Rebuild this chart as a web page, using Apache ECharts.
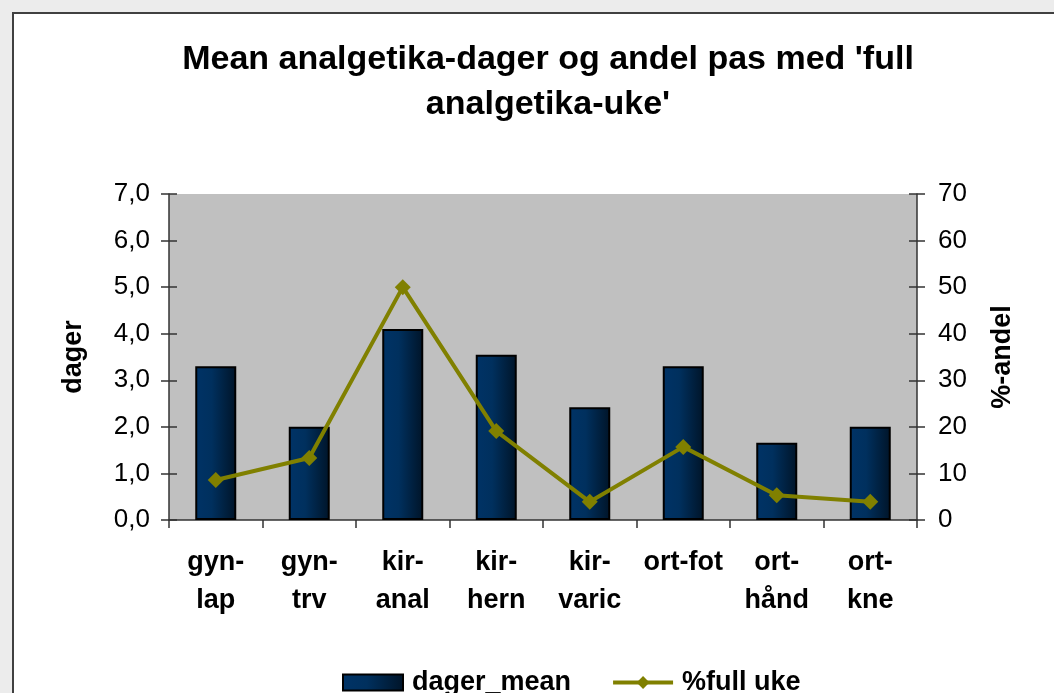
<!DOCTYPE html>
<html><head><meta charset="utf-8">
<script src="https://cdn.jsdelivr.net/npm/echarts@6/dist/echarts.min.js"></script>
<style>
html,body{margin:0;padding:0;background:#ececec;}
#wrap{position:absolute;left:12px;top:12px;width:1050px;height:690px;background:#fff;border:2px solid #404040;box-sizing:border-box;}
#c{position:absolute;left:-14px;top:-14px;width:1054px;height:693px;}
</style></head>
<body>
<div id="wrap"><div id="c"></div></div>
<script>
const categories = ['gyn-\nlap','gyn-\ntrv','kir-\nanal','kir-\nhern','kir-\nvaric','ort-fot','ort-\nhånd','ort-\nkne'];
const dagerMean = [3.3, 2.0, 4.1, 3.55, 2.42, 3.3, 1.66, 2.0];
const fullUke = [8.6, 13.3, 50.0, 19.1, 3.9, 15.7, 5.3, 3.9];
const leftTicks = [0,1,2,3,4,5,6,7];
const rightTicks = [0,10,20,30,40,50,60,70];

const chart = echarts.init(document.getElementById('c'));
const font = 'Liberation Sans, Arial, sans-serif';
const axisLineStyle = {color:'#333', width:1.5};
chart.setOption({
  animation:false,
  backgroundColor:'transparent',
  title:{text:"Mean analgetika-dager og andel pas med 'full\nanalgetika-uke'", left:543, top:32, textAlign:'center',
    textStyle:{fontFamily:font,fontSize:34,fontWeight:'bold',color:'#000',lineHeight:45}},
  legend:{top:664, left:337, itemGap:40, itemWidth:60, itemHeight:16,
    textStyle:{fontFamily:font,fontSize:27,fontWeight:'bold',color:'#000',padding:[0,0,0,4]},
    data:[{name:'dager_mean', icon:'rect'},{name:'%full uke', itemStyle:{color:'#808000'}, lineStyle:{width:4,color:'#808000'}}]},
  grid:{left:169,right:137,top:194,bottom:173,show:true,backgroundColor:'#c0c0c0',borderWidth:0},
  xAxis:[{type:'category',data:categories,axisLine:{lineStyle:axisLineStyle},
    axisTick:{show:true,length:8,lineStyle:{color:'#333',width:1.5}},
    axisLabel:{fontFamily:font,fontSize:27,fontWeight:'bold',color:'#000',lineHeight:38,margin:24,interval:0}}],
  yAxis:[
    {type:'value',min:0,max:7,interval:1,position:'left',
     axisLine:{show:true,lineStyle:axisLineStyle},
     axisTick:{show:true,length:8,lineStyle:{color:'#333',width:1.5}},
     splitLine:{show:false},
     axisLabel:{fontFamily:font,fontSize:26,color:'#000',margin:19,formatter:v=>v.toFixed(1).replace('.',',')},
     name:'dager',nameLocation:'middle',nameGap:82,nameRotate:90,
     nameTextStyle:{fontFamily:font,fontSize:27,fontWeight:'bold',color:'#000'}},
    {type:'value',min:0,max:70,interval:10,position:'right',
     axisLine:{show:true,lineStyle:axisLineStyle},
     axisTick:{show:true,length:8,lineStyle:{color:'#333',width:1.5}},
     splitLine:{show:false},
     axisLabel:{fontFamily:font,fontSize:26,color:'#000',margin:21},
     name:'%-andel',nameLocation:'middle',nameGap:72,nameRotate:90,
     nameTextStyle:{fontFamily:font,fontSize:27,fontWeight:'bold',color:'#000'}},
    {type:'value',min:0,max:7,interval:1,position:'left',axisLine:{show:false},
     axisTick:{show:true,inside:true,length:8,lineStyle:{color:'#333',width:1.5}},
     axisLabel:{show:false},splitLine:{show:false}},
    {type:'value',min:0,max:70,interval:10,position:'right',axisLine:{show:false},
     axisTick:{show:true,inside:true,length:8,lineStyle:{color:'#333',width:1.5}},
     axisLabel:{show:false},splitLine:{show:false}}
  ],
  series:[
    {name:'dager_mean',type:'bar',data:dagerMean,barWidth:41,yAxisIndex:0,
     itemStyle:{borderColor:'#000',borderWidth:2,
       color:new echarts.graphic.LinearGradient(0,0,1,0,[{offset:0,color:'#003366'},{offset:0.4,color:'#00305e'},{offset:1,color:'#001428'}])}},
    {name:'%full uke',type:'line',data:fullUke,yAxisIndex:1,symbol:'diamond',symbolSize:16,
     lineStyle:{color:'#808000',width:4},itemStyle:{color:'#808000'}}
  ]
});
</script>
</body></html>
